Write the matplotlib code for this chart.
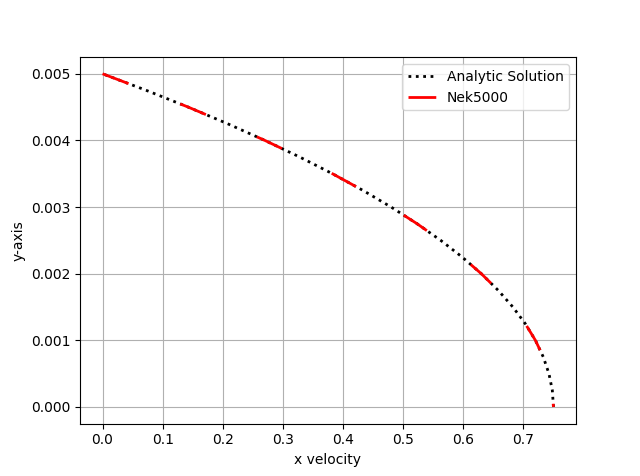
import matplotlib
matplotlib.use("Agg")
import matplotlib.pyplot as plt

# Analytic solution (y ascending)
y_analytic = [0.0, 0.00025, 0.0005, 0.00075, 0.001, 0.00125, 0.0015, 0.00175, 0.002,
              0.00225, 0.0025, 0.00275, 0.003, 0.00325, 0.0035, 0.00375, 0.004,
              0.00425, 0.0045, 0.00475, 0.005]
u_analytic = [0.75, 0.748125, 0.7425, 0.733125, 0.72, 0.703125, 0.6825, 0.658125, 0.63,
              0.598125, 0.5625, 0.523125, 0.48, 0.433125, 0.3825, 0.328125, 0.27,
              0.208125, 0.1425, 0.073125, 0.0]

# Nek5000 samples (from wall at top down to centreline)
y_nek = [0.005, 0.00475, 0.0045, 0.00425, 0.004, 0.00375, 0.0035, 0.00325, 0.003,
         0.00275, 0.0025, 0.00225, 0.002, 0.00175, 0.0015, 0.00125, 0.001,
         0.00075, 0.0005, 0.00025, 0.0]
u_nek = [0.0, 0.073125, 0.1425, 0.208125, 0.27, 0.328125, 0.3825, 0.433125, 0.48,
         0.523125, 0.5625, 0.598125, 0.63, 0.658125, 0.6825, 0.703125, 0.72,
         0.733125, 0.7425, 0.748125, 0.75]

fig, ax = plt.subplots(figsize=(6.4, 4.76), dpi=100)
ax.plot(u_analytic, y_analytic, color="black", linestyle=":", linewidth=2,
        label="Analytic Solution")
line, = ax.plot(u_nek, y_nek, color="red", linewidth=2, label="Nek5000")
line.set_dashes((10, 20))
ax.set_xlabel("x velocity")
ax.set_ylabel("y-axis")
ax.grid(True)
ax.legend(loc="upper right")
fig.savefig("out.png", dpi=100)
